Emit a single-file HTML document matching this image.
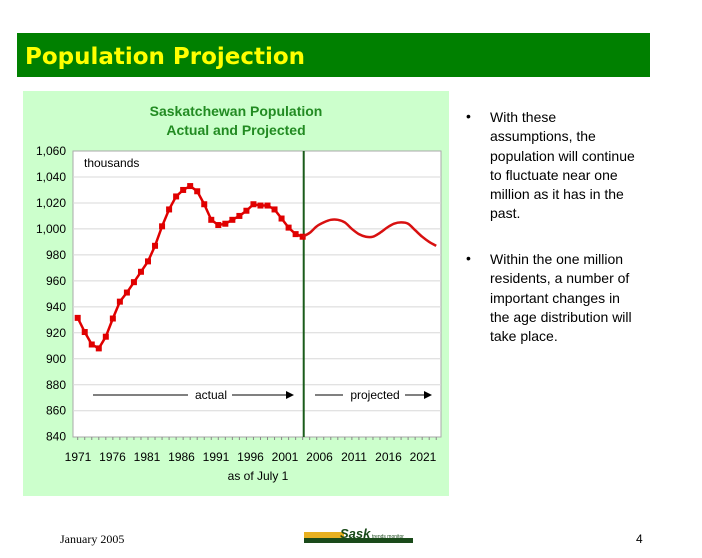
<!DOCTYPE html>
<html><head><meta charset="utf-8"><style>
body{margin:0;background:#fff;width:702px;height:558px;overflow:hidden}
svg{display:block;font-family:"Liberation Sans",sans-serif}
</style></head><body>
<svg width="702" height="558" viewBox="0 0 702 558">
<rect x="17" y="33" width="633" height="44" fill="#008000"/>
<text x="25" y="64" font-family="DejaVu Sans" font-weight="bold" font-size="23" fill="#ffff00" textLength="280" lengthAdjust="spacingAndGlyphs">Population Projection</text>
<rect x="23" y="91" width="426" height="405" fill="#ccffcc"/>
<text x="236" y="116" text-anchor="middle" font-weight="bold" font-size="14" fill="#228b22">Saskatchewan Population</text>
<text x="236" y="135" text-anchor="middle" font-weight="bold" font-size="14" fill="#228b22">Actual and Projected</text>
<rect x="73" y="151" width="368" height="286" fill="#fff" stroke="#aaa" stroke-width="1"/>
<g id="grid"></g><g id="yt"></g><g id="xt"></g>
<text x="84" y="167" font-size="12" fill="#000">thousands</text>
<line id="divider" y1="151" y2="437" stroke="#1a5c1a" stroke-width="2"/>
<path id="actual" fill="none" stroke="#e00000" stroke-width="2.5"/>
<g id="markers"></g>
<path id="proj" fill="none" stroke="#d81010" stroke-width="2.5"/>
<g>
<line x1="93" y1="395" x2="188" y2="395" stroke="#000"/>
<text x="211" y="399" text-anchor="middle" font-size="12">actual</text>
<line x1="232" y1="395" x2="286" y2="395" stroke="#000"/>
<polygon points="286,391 294,395 286,399" fill="#000"/>
</g>
<g>
<line x1="315" y1="395" x2="343" y2="395" stroke="#000"/>
<text x="375" y="399" text-anchor="middle" font-size="12">projected</text>
<line x1="405" y1="395" x2="424" y2="395" stroke="#000"/>
<polygon points="424,391 432,395 424,399" fill="#000"/>
</g>
<text x="258" y="480" text-anchor="middle" font-size="12">as of July 1</text>
<g font-size="14" fill="#000">
<text x="466" y="121">•</text>
<text x="490" y="122">With these</text>
<text x="490" y="141">assumptions, the</text>
<text x="490" y="161">population will continue</text>
<text x="490" y="180">to fluctuate near one</text>
<text x="490" y="199">million as it has in the</text>
<text x="490" y="218">past.</text>
<text x="466" y="263">•</text>
<text x="490" y="264">Within the one million</text>
<text x="490" y="283">residents, a number of</text>
<text x="490" y="303">important changes in</text>
<text x="490" y="322">the age distribution will</text>
<text x="490" y="341">take place.</text>
</g>
<text x="60" y="543" font-family="Liberation Serif" font-size="12">January 2005</text>
<g>
<rect x="304" y="532" width="40" height="6" fill="#e8b020"/>
<rect x="304" y="538" width="109" height="5" fill="#1a4a1a"/>
<text x="340" y="538" font-weight="bold" font-style="italic" font-size="13" fill="#1a4a1a">Sask</text>
<text x="372" y="538" font-size="5" fill="#1a4a1a">trends monitor</text>
</g>
<text x="636" y="543" font-size="12">4</text>
</svg>
<script>
const actualYears=[1971,1972,1973,1974,1975,1976,1977,1978,1979,1980,1981,1982,1983,1984,1985,1986,1987,1988,1989,1990,1991,1992,1993,1994,1995,1996,1997,1998,1999,2000,2001,2002,2003];
const actualValues=[931.5,920.6,911,908,917,931,944,951,959,967,975,987,1002,1015,1025,1030,1033,1029,1019,1007,1003,1004,1007,1010,1014,1019,1018,1018,1015,1008,1001,996,994];
const projYears=[2003,2004,2005,2006,2007,2008,2009,2010,2011,2012,2013,2014,2015,2016,2017,2018,2019,2020,2021,2022];
const projValues=[994,997,1002,1005,1007,1007,1005,1000,996,994,994,997,1001,1004,1005,1004,999,994,990,987];
const yTicks=[840,860,880,900,920,940,960,980,1000,1020,1040,1060];
const yTickLabels=["840","860","880","900","920","940","960","980","1,000","1,020","1,040","1,060"];
const xTickLabels=["1971","1976","1981","1986","1991","1996","2001","2006","2011","2016","2021"];
const dividerYear=2003.15;
const NS="http://www.w3.org/2000/svg";
const X=y=>77.7+(y-1971)*7.03;
const Y=v=>436.7-(v-840)*(285.7/220);
function mk(t,a,p){const e=document.createElementNS(NS,t);for(const k in a)e.setAttribute(k,a[k]);p.appendChild(e);return e;}
const grid=document.getElementById('grid'),yt=document.getElementById('yt'),xt=document.getElementById('xt');
yTicks.forEach((v,i)=>{
 if(v>840&&v<1060){const g=mk('line',{x1:73,x2:441,y1:Y(v),y2:Y(v),stroke:'#d8d8d8'},grid);
 
 }
 const t=mk('text',{x:66,y:Y(v)+4,'text-anchor':'end','font-size':12},yt);t.textContent=yTickLabels[i];
 
 
});
for(let yr=1971;yr<=2022;yr++){mk('line',{x1:X(yr),x2:X(yr),y1:437,y2:440,stroke:'#888'},xt);}
xTickLabels.forEach((l,i)=>{const t=mk('text',{x:78+i*34.5,y:461,'text-anchor':'middle','font-size':12},xt);t.textContent=l;
 
 });
const dv=document.getElementById('divider');dv.setAttribute('x1',X(dividerYear));dv.setAttribute('x2',X(dividerYear));
document.getElementById('actual').setAttribute('d',actualYears.map((y,i)=>(i?'L':'M')+X(y)+','+Y(actualValues[i])).join(''));
const mg=document.getElementById('markers');
actualYears.forEach((y,i)=>{const r=mk('rect',{x:X(y)-3,y:Y(actualValues[i])-3,width:6,height:6,fill:'#e00000'},mg);
 
 });
// smooth projected curve (Catmull-Rom)
const pts=projYears.map((y,i)=>[X(y),Y(projValues[i])]);
let d='M'+pts[0];
for(let i=0;i<pts.length-1;i++){const p0=pts[i-1]||pts[i],p1=pts[i],p2=pts[i+1],p3=pts[i+2]||p2;
 d+='C'+(p1[0]+(p2[0]-p0[0])/6)+','+(p1[1]+(p2[1]-p0[1])/6)+' '+(p2[0]-(p3[0]-p1[0])/6)+','+(p2[1]-(p3[1]-p1[1])/6)+' '+p2[0]+','+p2[1];}
document.getElementById('proj').setAttribute('d',d);
</script>
</body></html>
